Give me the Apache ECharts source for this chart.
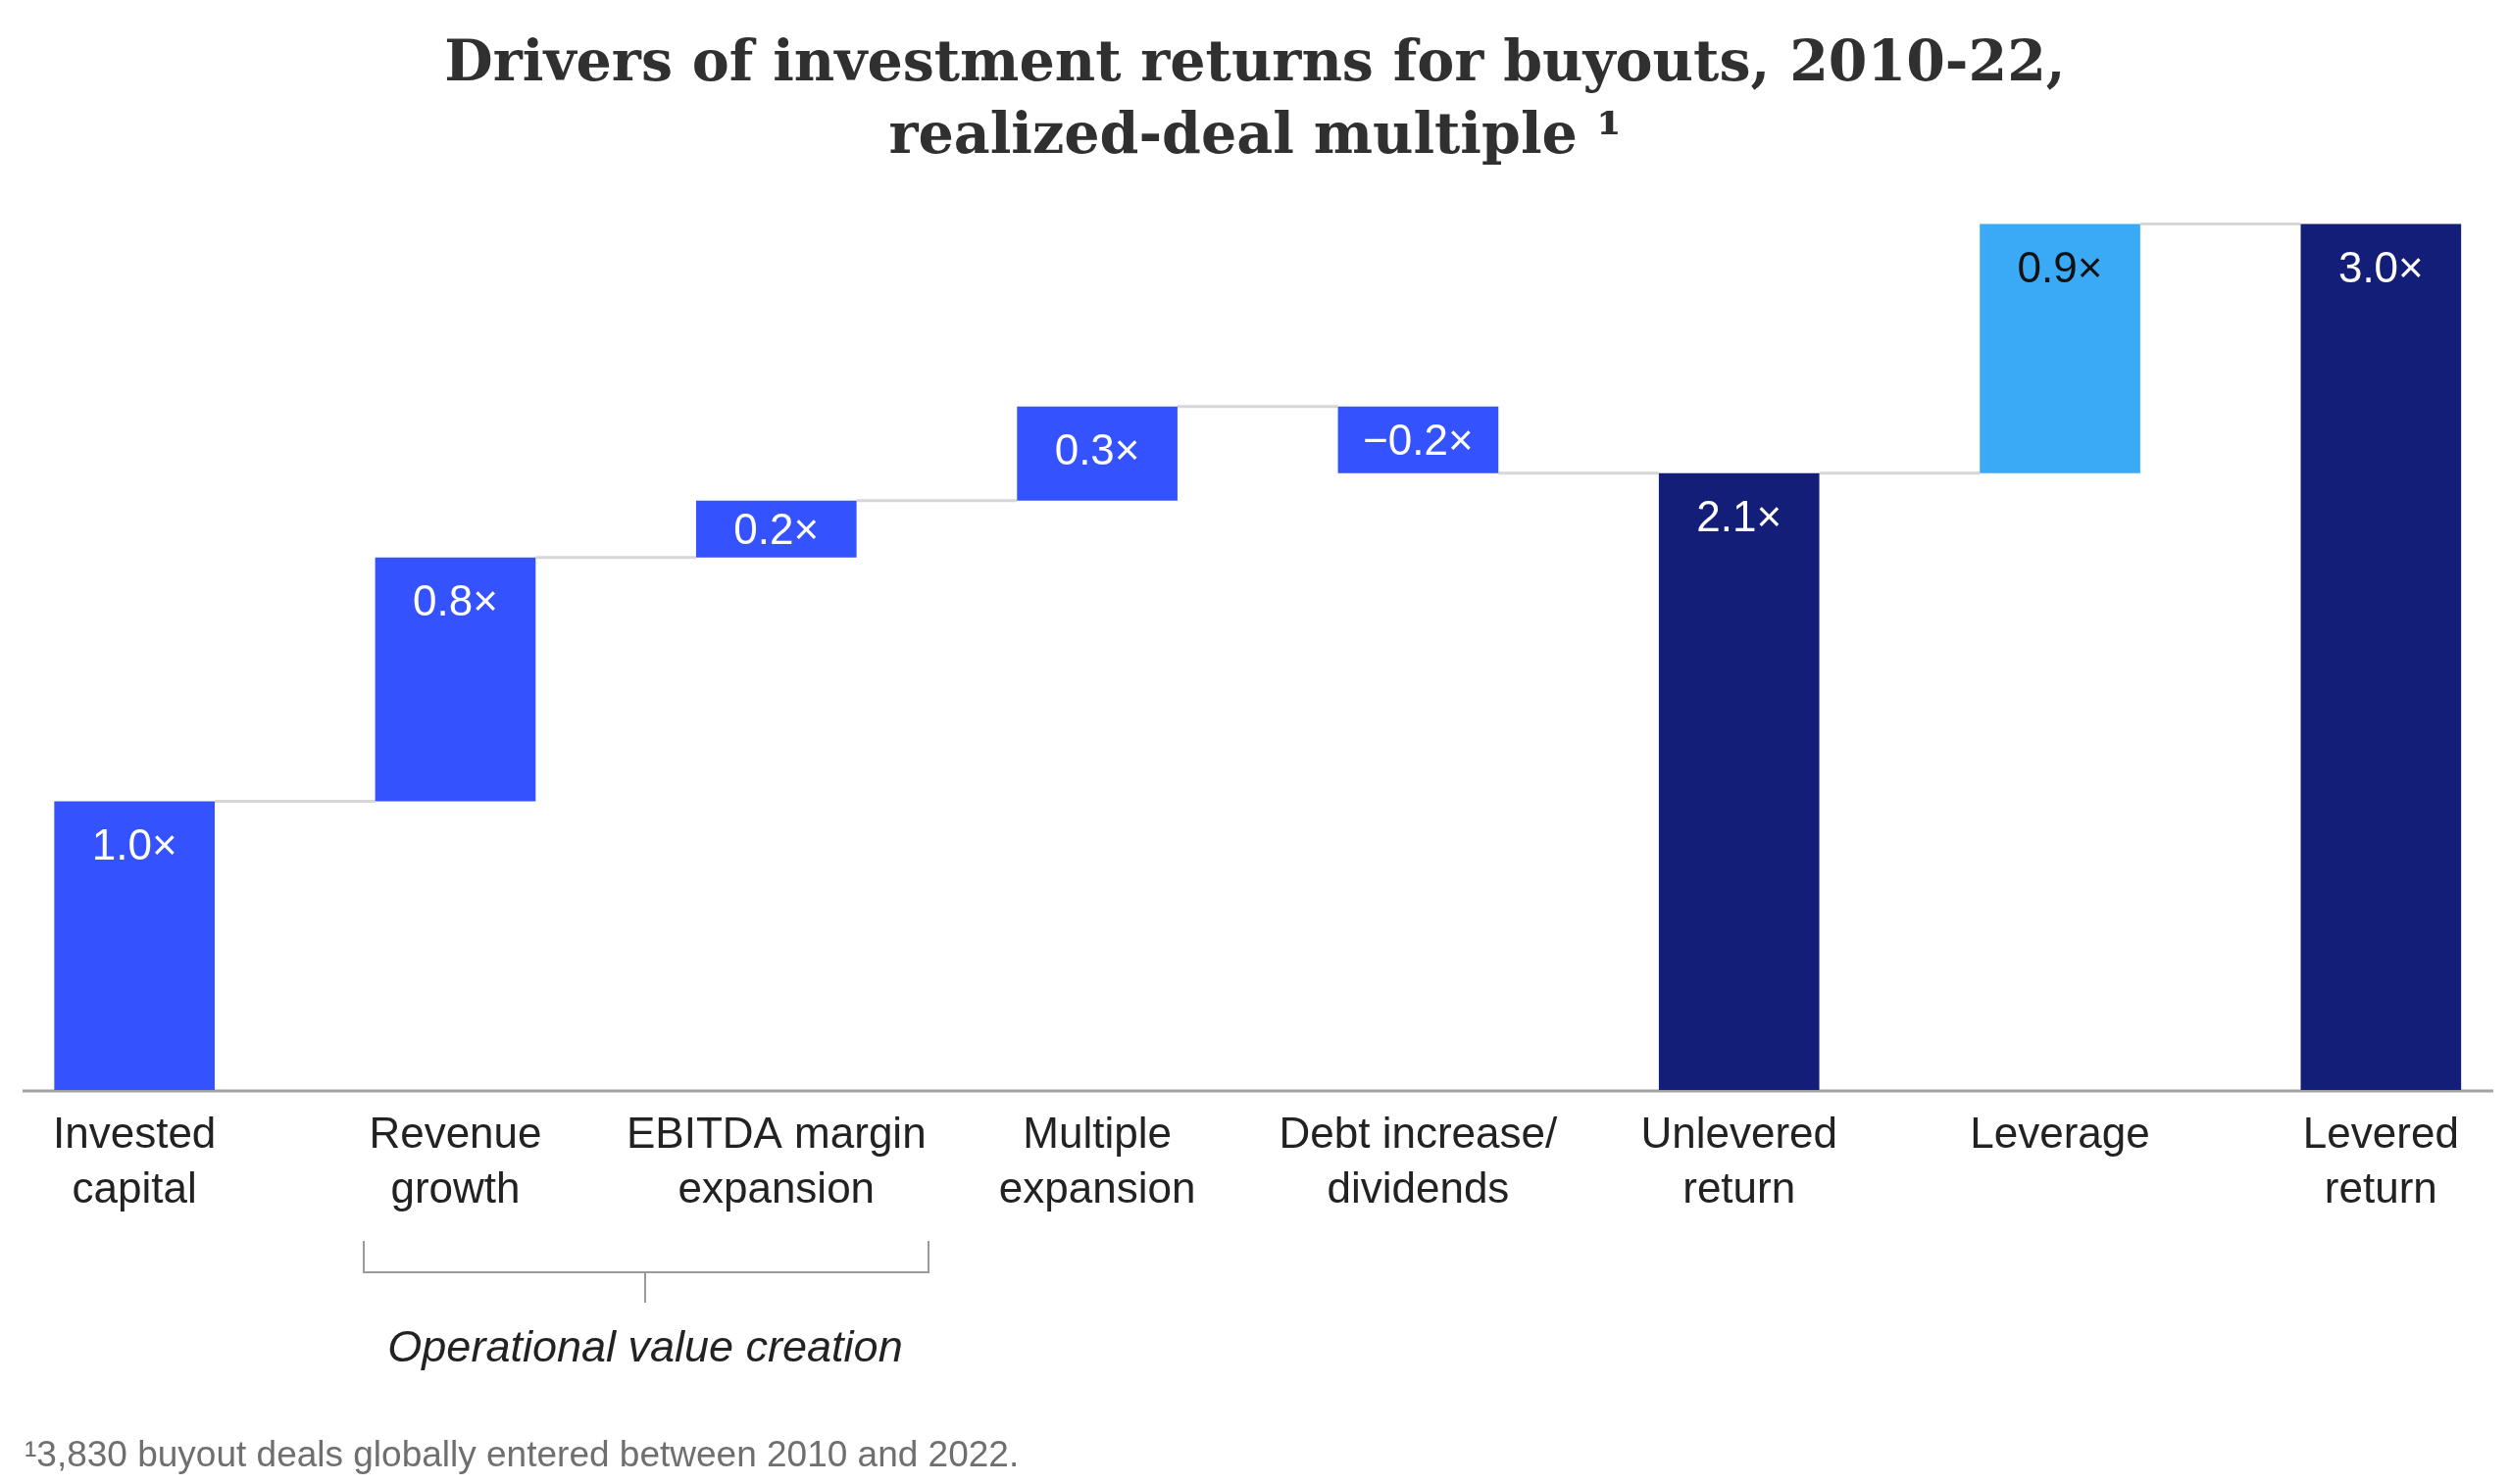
<!DOCTYPE html>
<html>
<head>
<meta charset="utf-8">
<script src="https://cdn.jsdelivr.net/npm/echarts@6/dist/echarts.min.js"></script>
<style>
html,body{margin:0;padding:0;background:#ffffff;}
#chart{width:2560px;height:1514px;}
</style>
</head>
<body>
<div id="chart"></div>
<script>
// ---- data ----
const categories = [
  'Invested\ncapital',
  'Revenue\ngrowth',
  'EBITDA margin\nexpansion',
  'Multiple\nexpansion',
  'Debt increase/\ndividends',
  'Unlevered\nreturn',
  'Leverage',
  'Levered\nreturn'
];
const stepKinds = ['start', 'delta', 'delta', 'delta', 'delta', 'total', 'lever', 'total'];
const stepValues = [1.0, 0.845, 0.197, 0.326, -0.231, 2.137, 0.863, 3.0];
const valueLabels = ['1.0\u00d7', '0.8\u00d7', '0.2\u00d7', '0.3\u00d7', '\u22120.2\u00d7', '2.1\u00d7', '0.9\u00d7', '3.0\u00d7'];
const titleLines = ['Drivers of investment returns for buyouts, 2010-22,', 'realized-deal multiple \u00b9'];
const groupLabel = 'Operational value creation';
const footnote = '\u00b93,830 buyout deals globally entered between 2010 and 2022.';

// ---- styles ----
const BLUE = '#3452FE';
const NAVY = '#131E78';
const LIGHT = '#3BAAF6';
function colorFor(kind) {
  if (kind === 'total') return NAVY;
  if (kind === 'lever') return LIGHT;
  return BLUE;
}

// ---- build waterfall from data ----
const baseData = [];
const barData = [];
const levels = [];
let running = 0;
stepKinds.forEach((kind, i) => {
  const v = stepValues[i];
  let base, h;
  if (kind === 'start' || kind === 'total') {
    base = 0; h = v; running = v;
  } else {
    if (v >= 0) { base = running; h = v; }
    else { base = running + v; h = -v; }
    running += v;
  }
  baseData.push(base);
  const short = h < 0.3;
  barData.push({
    value: h,
    itemStyle: { color: colorFor(kind) },
    label: {
      show: true,
      formatter: valueLabels[i],
      position: short ? 'inside' : 'insideTop',
      distance: short ? 0 : 25,
      offset: short ? [0, 3] : [0, 0],
      color: kind === 'lever' ? '#111111' : '#ffffff'
    }
  });
  levels.push(running);
});
const connectorData = levels.slice(0, levels.length - 1).map((lv, i) => [i, lv]);

const chart = echarts.init(document.getElementById('chart'), null, { renderer: 'canvas' });

const titleStyle = {
  fontFamily: 'DejaVu Serif',
  fontWeight: 'bold',
  fontSize: 57,
  fill: '#303030',
  textAlign: 'center',
  textVerticalAlign: 'middle'
};

const option = {
  backgroundColor: '#ffffff',
  animation: false,
  grid: {
    left: -26.5,
    right: -32,
    top: 228.6,
    bottom: 402,
    containLabel: false,
    outerBoundsMode: 'none'
  },
  xAxis: {
    type: 'category',
    data: categories,
    axisLine: { show: false },
    axisTick: { show: false },
    splitLine: { show: false },
    axisLabel: {
      interval: 0,
      margin: 19,
      fontFamily: 'Liberation Sans',
      fontSize: 44,
      lineHeight: 56,
      color: '#222222'
    }
  },
  yAxis: {
    type: 'value',
    min: 0,
    max: 3,
    show: false,
    splitLine: { show: false }
  },
  series: [
    {
      type: 'custom',
      name: 'connectors',
      z: 1,
      data: connectorData,
      renderItem: function (params, api) {
        const i = api.value(0);
        const lv = api.value(1);
        const p1 = api.coord([i, lv]);
        const p2 = api.coord([i + 1, lv]);
        const band = api.size([1, 0])[0];
        const half = band * 0.25;
        return {
          type: 'line',
          shape: { x1: p1[0] + half, y1: p1[1], x2: p2[0] - half, y2: p2[1] },
          style: { stroke: '#d6d6d6', lineWidth: 3 }
        };
      }
    },
    {
      type: 'bar',
      name: 'base',
      stack: 'wf',
      barWidth: '50%',
      itemStyle: { color: 'transparent' },
      emphasis: { disabled: true },
      data: baseData,
      z: 2
    },
    {
      type: 'bar',
      name: 'value',
      stack: 'wf',
      barWidth: '50%',
      z: 3,
      label: {
        show: true,
        fontFamily: 'Liberation Sans',
        fontSize: 44,
        lineHeight: 44
      },
      data: barData
    }
  ]
};

chart.setOption(option);

const y0 = chart.convertToPixel({ yAxisIndex: 0 }, 0);

chart.setOption({
  graphic: [
    {
      type: 'text',
      x: 1280,
      y: 67,
      style: Object.assign({ text: titleLines[0] }, titleStyle)
    },
    {
      type: 'text',
      x: 1280,
      y: 141,
      style: Object.assign({ text: titleLines[1] }, titleStyle)
    },
    {
      type: 'line',
      z: 0,
      shape: { x1: 23, y1: y0 + 1, x2: 2543, y2: y0 + 1 },
      style: { stroke: '#a2a2a2', lineWidth: 3 }
    },
    {
      type: 'polyline',
      shape: { points: [[371, 1266], [371, 1298], [947, 1298], [947, 1266]] },
      style: { stroke: '#9a9a9a', lineWidth: 2, fill: null }
    },
    {
      type: 'line',
      shape: { x1: 658, y1: 1298, x2: 658, y2: 1329 },
      style: { stroke: '#9a9a9a', lineWidth: 2 }
    },
    {
      type: 'text',
      x: 658,
      y: 1376,
      style: {
        text: groupLabel,
        fontFamily: 'Liberation Sans',
        fontStyle: 'italic',
        fontSize: 45,
        fill: '#222222',
        textAlign: 'center',
        textVerticalAlign: 'middle'
      }
    },
    {
      type: 'text',
      x: 25,
      y: 1486,
      style: {
        text: footnote,
        fontFamily: 'Liberation Sans',
        fontSize: 37,
        fill: '#6f6f6f',
        textAlign: 'left',
        textVerticalAlign: 'middle'
      }
    }
  ]
});
</script>
</body>
</html>
